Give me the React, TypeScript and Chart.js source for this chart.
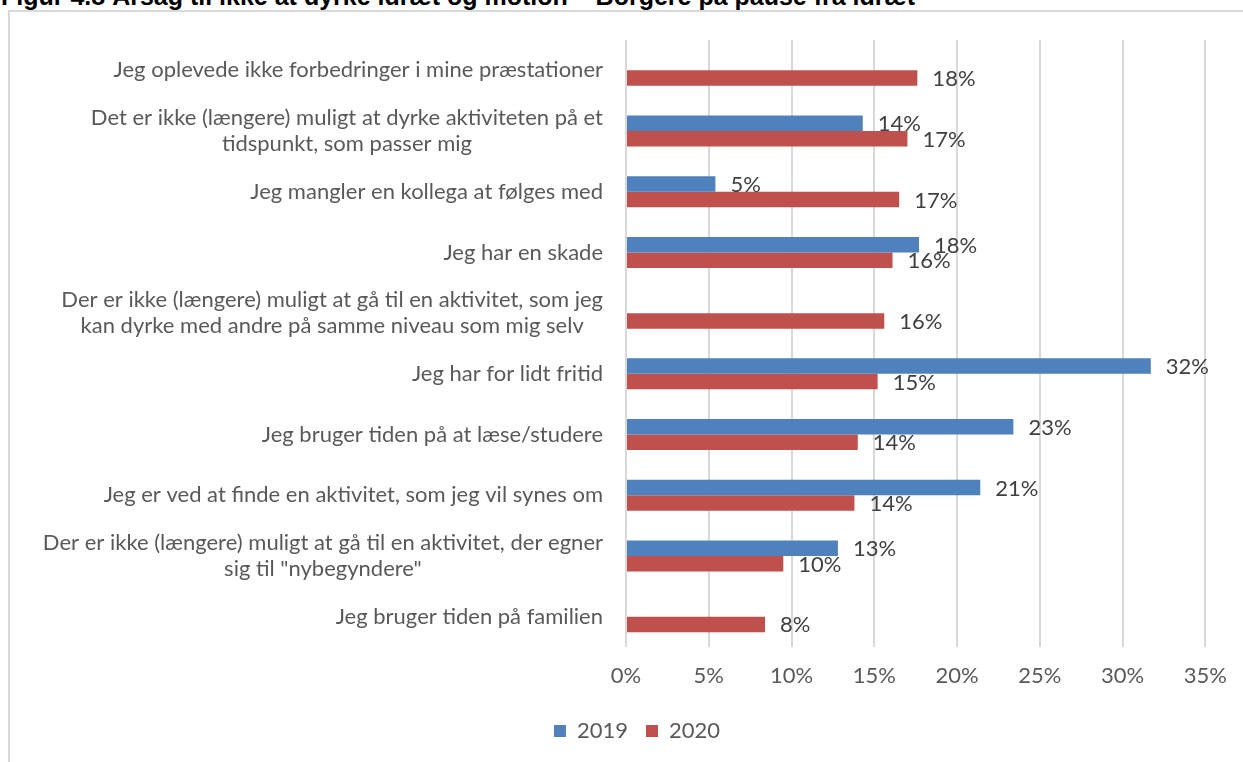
import React, { useEffect, useRef } from "react";
import { Chart, registerables } from "chart.js";

Chart.register(...registerables);

const titleText = "Figur 4.8 Årsag til ikke at dyrke idræt og motion – Borgere på pause fra idræt";

const categories: string[][] = [
  ["Jeg oplevede ikke forbedringer i mine præstationer"],
  ["Det er ikke (længere) muligt at dyrke aktiviteten på et", "tidspunkt, som passer mig"],
  ["Jeg mangler en kollega at følges med"],
  ["Jeg har en skade"],
  ["Der er ikke (længere) muligt at gå til en aktivitet, som jeg", "kan dyrke med andre på samme niveau som mig selv"],
  ["Jeg har for lidt fritid"],
  ["Jeg bruger tiden på at læse/studere"],
  ["Jeg er ved at finde en aktivitet, som jeg vil synes om"],
  ["Der er ikke (længere) muligt at gå til en aktivitet, der egner", "sig til \"nybegyndere\""],
  ["Jeg bruger tiden på familien"],
];

const seriesNames = ["2019", "2020"];
const values2019: (number | null)[] = [null, 14.3, 5.4, 17.7, null, 31.7, 23.4, 21.4, 12.8, null];
const values2020: (number | null)[] = [17.6, 17.0, 16.5, 16.1, 15.6, 15.2, 14.0, 13.8, 9.5, 8.4];
const seriesColors = ["#4F81BD", "#C0504D"];

const xMin = 0;
const xMax = 35;
const xStep = 5;

const FONT = "Lato";
const FS = 22;
const LABEL_COLOR = "#595959";
const VALUE_COLOR = "#404040";

const yLabelPlugin = {
  id: "yLabels",
  afterDraw(chart: any) {
    const { ctx } = chart;
    const yScale = chart.scales.y;
    const right = chart.chartArea.left - 23;
    ctx.save();
    ctx.font = `${FS}px ${FONT}`;
    ctx.fillStyle = LABEL_COLOR;
    ctx.textAlign = "center";
    ctx.textBaseline = "middle";
    const lh = 26;
    categories.forEach((lines, i) => {
      const cy = yScale.getPixelForValue(i);
      const w = Math.max(...lines.map((l) => ctx.measureText(l).width));
      const cx = right - w / 2;
      const n = lines.length;
      lines.forEach((l, j) => {
        ctx.fillText(l, cx, cy + (j - (n - 1) / 2) * lh);
      });
    });
    ctx.restore();
  },
};

const valueLabelPlugin = {
  id: "valueLabels",
  afterDatasetsDraw(chart: any) {
    const { ctx } = chart;
    ctx.save();
    ctx.font = `${FS}px ${FONT}`;
    ctx.fillStyle = VALUE_COLOR;
    ctx.textAlign = "left";
    ctx.textBaseline = "middle";
    chart.data.datasets.forEach((ds: any, di: number) => {
      const meta = chart.getDatasetMeta(di);
      meta.data.forEach((el: any, i: number) => {
        const v = ds.data[i];
        if (v === null || v === undefined) return;
        ctx.fillText(`${Math.round(v)}%`, el.x + 15, el.y + 1);
      });
    });
    ctx.restore();
  },
};

export default function App() {
  const canvasRef = useRef<HTMLCanvasElement | null>(null);

  useEffect(() => {
    if (!canvasRef.current) return;
    const chart = new Chart(canvasRef.current, {
      type: "bar",
      data: {
        labels: categories.map((c) => c.join(" ")),
        datasets: [
          {
            label: seriesNames[0],
            data: values2019,
            backgroundColor: seriesColors[0],
            categoryPercentage: 0.51,
            barPercentage: 1.0,
          },
          {
            label: seriesNames[1],
            data: values2020,
            backgroundColor: seriesColors[1],
            categoryPercentage: 0.51,
            barPercentage: 1.0,
          },
        ],
      },
      options: {
        indexAxis: "y",
        animation: false,
        responsive: false,
        layout: { padding: { left: 67, right: 36, top: 40, bottom: 10 } },
        plugins: {
          legend: {
            position: "bottom",
            labels: {
              boxWidth: 12,
              boxHeight: 12,
              padding: 18,
              color: LABEL_COLOR,
              font: { family: FONT, size: FS },
            },
          },
          tooltip: { enabled: false },
          title: { display: false },
        },
        scales: {
          x: {
            min: xMin,
            max: xMax,
            ticks: {
              stepSize: xStep,
              callback: (v: any) => `${v}%`,
              color: LABEL_COLOR,
              font: { family: FONT, size: FS },
              padding: 16,
            },
            grid: { color: "#d9d9d9", lineWidth: 2, drawTicks: false },
            border: { display: false },
            afterFit: (s: any) => {
              s.height = 55;
            },
          },
          y: {
            ticks: { display: false },
            grid: { display: false },
            border: { display: false },
            afterFit: (s: any) => {
              s.width = 559;
            },
          },
        },
      },
      plugins: [yLabelPlugin, valueLabelPlugin],
    } as any);
    return () => chart.destroy();
  }, []);

  return (
    <div
      style={{
        position: "fixed",
        left: 0,
        top: 0,
        width: 1243,
        height: 762,
        overflow: "hidden",
        background: "#ffffff",
      }}
    >
      <div
        style={{
          position: "absolute",
          left: 8,
          top: 10,
          width: 1300,
          height: 800,
          border: "2px solid #d9d9d9",
          boxSizing: "border-box",
        }}
      />
      <div
        style={{
          position: "absolute",
          left: 1,
          top: -16,
          font: "bold 25px 'Liberation Sans', Arial, sans-serif",
          lineHeight: "25px",
          whiteSpace: "nowrap",
          color: "#000000",
        }}
      >
        {titleText}
      </div>
      <canvas
        ref={canvasRef}
        width={1243}
        height={762}
        style={{ position: "absolute", left: 0, top: 0, width: 1243, height: 762 }}
      />
    </div>
  );
}
